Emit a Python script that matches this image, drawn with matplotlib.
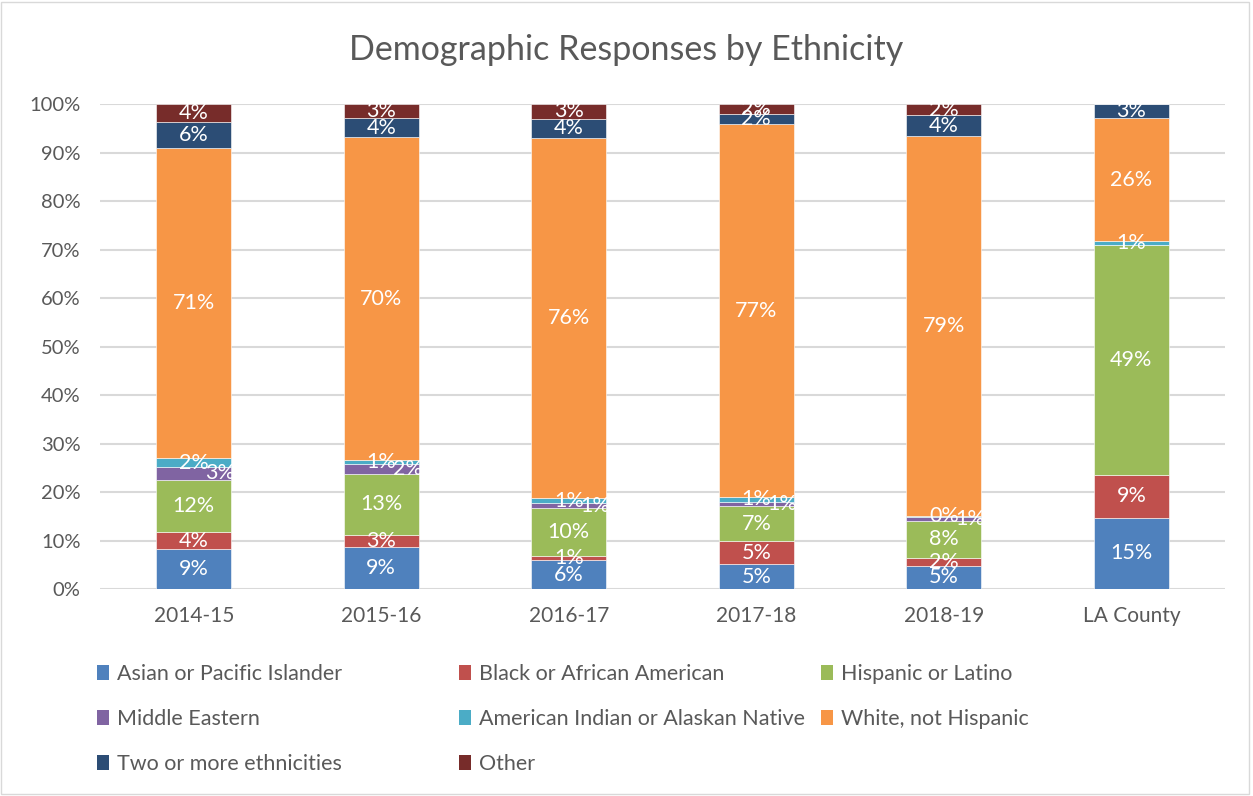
import numpy as np
import matplotlib
matplotlib.use("Agg")
import matplotlib.pyplot as plt
from matplotlib.patches import Rectangle, Patch

# ---- DATA ----
years = ["2014-15", "2015-16", "2016-17", "2017-18", "2018-19", "LA County"]

# raw response shares (%), respondents could pick more than one -> stacked to 100%
asian    = [9.1, 9.0, 6.1, 5.1, 4.8, 15.2]
black    = [3.9, 2.8, 0.8, 4.8, 1.7, 9.0]
hispanic = [12.1, 13.2, 10.1, 7.2, 7.7, 48.8]
mideast  = [2.8, 2.0, 1.0, 0.9, 0.8, np.nan]
amindian = [2.1, 0.9, 1.1, 1.0, 0.2, 0.9]
white    = [71.0, 70.0, 75.9, 76.9, 79.0, 26.1]
twoplus  = [6.0, 4.1, 4.0, 2.0, 4.3, 3.0]
other    = [4.1, 3.0, 3.0, 2.1, 2.3, np.nan]

series = [
    ("Asian or Pacific Islander", asian, "#4F81BD"),
    ("Black or African American", black, "#C0504D"),
    ("Hispanic or Latino", hispanic, "#9BBB59"),
    ("Middle Eastern", mideast, "#8064A2"),
    ("American Indian or Alaskan Native", amindian, "#4BACC6"),
    ("White, not Hispanic", white, "#F79646"),
    ("Two or more ethnicities", twoplus, "#2C4D75"),
    ("Other", other, "#772C2A"),
]

plt.rcParams["font.family"] = ["Lato", "DejaVu Sans"]
TXT = "#595959"

fig = plt.figure(figsize=(12.53, 7.96), dpi=100)
ax = fig.add_axes([0.0798, 0.26, 0.898, 0.609])

raw = np.array([np.nan_to_num(np.array(s[1], dtype=float)) for s in series])
totals = raw.sum(axis=0)
x = np.arange(len(years))
bottom = np.zeros(len(years))

for i, (name, vals, color) in enumerate(series):
    share = raw[i] / totals
    ax.bar(x, share, 0.4, bottom=bottom, color=color, edgecolor="white",
           linewidth=0.4, zorder=3)
    for j in range(len(years)):
        v = vals[j]
        if np.isnan(v):
            continue
        dx = 0.14 if name == "Middle Eastern" else 0.0
        ax.text(x[j] + dx, bottom[j] + share[j] / 2, f"{v:.0f}%",
                ha="center", va="center", color="white", fontsize=15.5, zorder=4)
    bottom += share

ax.set_xlim(-0.5, len(years) - 0.5)
ax.set_ylim(0, 1)
ax.set_yticks(np.arange(0, 1.01, 0.1))
ax.set_yticklabels([f"{int(round(t * 100))}%" for t in np.arange(0, 1.01, 0.1)])
ax.set_xticks(x)
ax.set_xticklabels(years)
ax.tick_params(axis="y", length=0, pad=14, labelsize=14.5, labelcolor=TXT)
ax.tick_params(axis="x", length=0, pad=12, labelsize=15, labelcolor=TXT)
ax.yaxis.grid(True, color="#d9d9d9", linewidth=1.5, zorder=0)
for sp in ax.spines.values():
    sp.set_visible(False)
ax.set_axisbelow(True)

fig.text(0.5, 0.937, "Demographic Responses by Ethnicity", ha="center", va="center",
         fontsize=24.5, color=TXT)

# legend: Excel uses equal-width columns, so one legend per column
handles = [Patch(facecolor=c, label=n) for n, _, c in series]
columns = [[0, 3, 6], [1, 4, 7], [2, 5]]
col_x = [0.0774, 0.3663, 0.6552]
for cx, idx in zip(col_x, columns):
    leg = fig.legend([handles[k] for k in idx], [handles[k].get_label() for k in idx],
                     ncol=1, loc="upper left", bbox_to_anchor=(cx, 0.1657),
                     frameon=False, fontsize=15.5, handlelength=0.55, handleheight=0.7,
                     handletextpad=0.37, labelspacing=1.17, borderpad=0, borderaxespad=0)
    for t in leg.get_texts():
        t.set_color(TXT)

fig.patches.append(Rectangle((0.001, 0.002), 0.996, 0.995, transform=fig.transFigure,
                             fill=False, edgecolor="#d9d9d9", linewidth=1))

fig.savefig("out.png", dpi=100)
